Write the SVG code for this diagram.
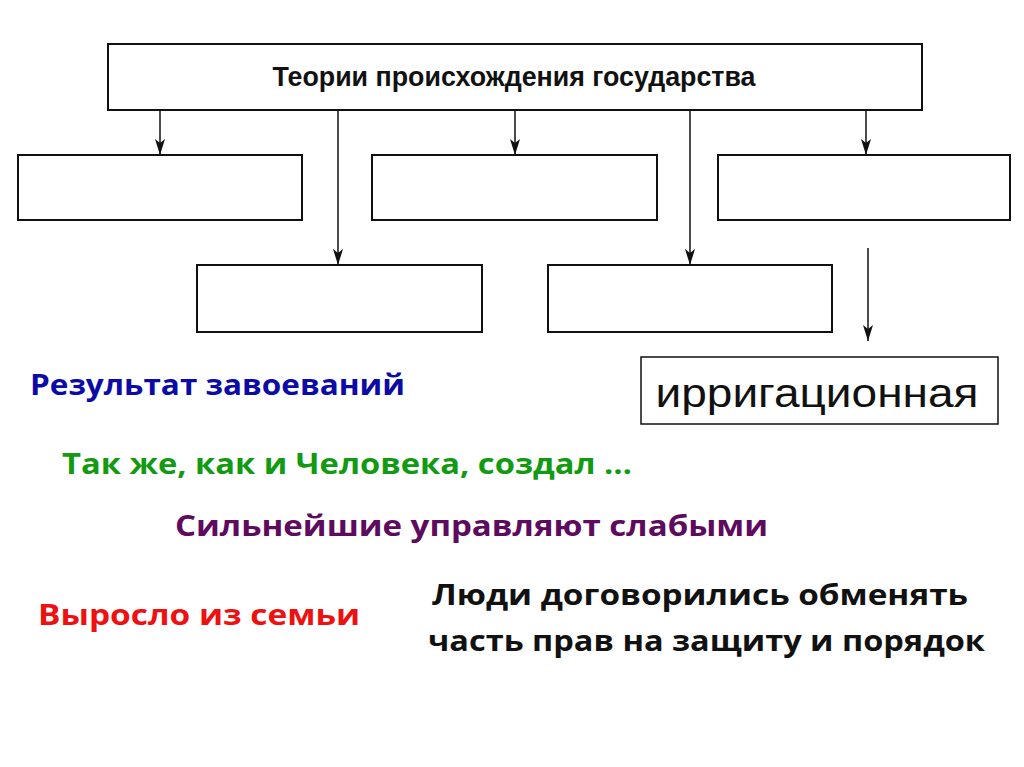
<svg xmlns="http://www.w3.org/2000/svg" width="1024" height="767" viewBox="0 0 1024 767">
<style>
.box{fill:#fff;stroke:#111;stroke-width:2}
.ln{stroke:#111;stroke-width:1.5;fill:none}
.t{font-family:"Open Sans","Liberation Sans",sans-serif;font-weight:bold}
</style>
<defs>
<marker id="ah" viewBox="0 0 16 10" refX="16" refY="5" markerWidth="16" markerHeight="10" markerUnits="userSpaceOnUse" orient="auto">
<path d="M0,0 L16,5 L0,10 L4,5 Z" fill="#111"/>
</marker>
</defs>
<rect width="1024" height="767" fill="#fff"/>
<g id="connectors">
<line class="ln" x1="160" y1="110" x2="160" y2="155" marker-end="url(#ah)"/>
<line class="ln" x1="515" y1="110" x2="515" y2="155" marker-end="url(#ah)"/>
<line class="ln" x1="866" y1="110" x2="866" y2="155" marker-end="url(#ah)"/>
<line class="ln" x1="338" y1="110" x2="338" y2="265" marker-end="url(#ah)"/>
<line class="ln" x1="690" y1="110" x2="690" y2="265" marker-end="url(#ah)"/>
<line class="ln" x1="868" y1="248" x2="868" y2="341" marker-end="url(#ah)"/>
</g>
<g id="root">
<rect class="box" x="108" y="44" width="814" height="66"/>
<text x="514" y="86" text-anchor="middle" font-family="Liberation Sans, sans-serif" font-weight="bold" font-size="27" textLength="483" lengthAdjust="spacingAndGlyphs" fill="#111">Теории происхождения государства</text>
</g>
<g id="box1"><rect class="box" x="18" y="155" width="284" height="65"/></g>
<g id="box2"><rect class="box" x="372" y="155" width="285" height="65"/></g>
<g id="box3"><rect class="box" x="718" y="155" width="292" height="65"/></g>
<g id="box4"><rect class="box" x="197" y="265" width="285" height="67"/></g>
<g id="box5"><rect class="box" x="548" y="265" width="284" height="67"/></g>
<g id="irrig">
<rect x="641" y="357" width="357" height="67" fill="#fff" stroke="#111" stroke-width="1.5"/>
<text x="817" y="407" text-anchor="middle" font-family="Liberation Sans, Arial, sans-serif" font-size="40" textLength="323" lengthAdjust="spacingAndGlyphs" fill="#111">ирригационная</text>
</g>
<g id="labels">
<text class="t" x="30" y="395" font-size="29" fill="#0b0ba8" textLength="375" lengthAdjust="spacingAndGlyphs">Результат завоеваний</text>
<text class="t" x="62" y="474" font-size="29" fill="#129a12" textLength="570" lengthAdjust="spacingAndGlyphs">Так же, как и Человека, создал …</text>
<text class="t" x="175" y="536" font-size="29" fill="#5e0a5e" textLength="593" lengthAdjust="spacingAndGlyphs">Сильнейшие управляют слабыми</text>
<text class="t" x="38" y="625" font-size="29" fill="#ee1111" textLength="322" lengthAdjust="spacingAndGlyphs">Выросло из семьи</text>
<text class="t" x="432" y="605" font-size="29" fill="#111" textLength="536" lengthAdjust="spacingAndGlyphs">Люди договорились обменять</text>
<text class="t" x="428" y="651" font-size="29" fill="#111" textLength="557" lengthAdjust="spacingAndGlyphs">часть прав на защиту и порядок</text>
</g>
</svg>
